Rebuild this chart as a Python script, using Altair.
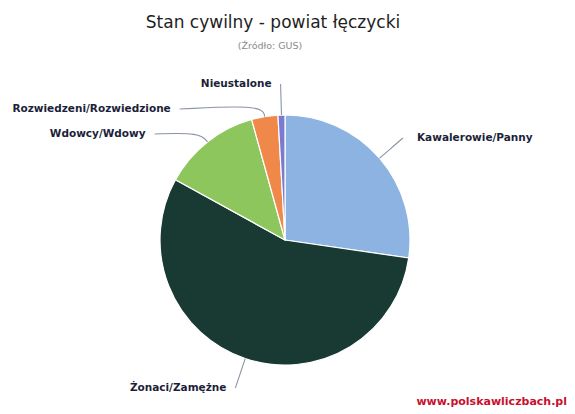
import math
import altair as alt
import pandas as pd

# ---- data ----
categories = ["Kawalerowie/Panny", "Żonaci/Zamężne", "Wdowcy/Wdowy",
              "Rozwiedzeni/Rozwiedzione", "Nieustalone"]
shares = [27.3, 55.7, 12.7, 3.4, 0.9]
colors = ["#8db3e2", "#193a33", "#8dc65d", "#f0884a", "#7b7ad0"]

TITLE = "Stan cywilny - powiat łęczycki"
SUBTITLE = "(Źródło: GUS)"
CREDIT = "www.polskawliczbach.pl"

# ---- layout (page pixels) ----
W, H = 559, 406
CX, CY, R = 285, 240, 125
RL, RX, RB = 156, 168, 137
PAD_L, PAD_R = 9, 14
SPACING = 25
FONT = "DejaVu Sans"

total = sum(shares)
rows = []
cum = 0.0
for i, (c, s) in enumerate(zip(categories, shares)):
    mid = (cum + s / 2) / total * 2 * math.pi
    cum += s
    side = "right" if math.sin(mid) >= 0 else "left"
    rows.append(dict(cat=c, share=s, idx=i, mid=mid, side=side,
                     ax=CX + RL * math.sin(mid), ay=CY - RL * math.cos(mid)))

# avoid overlapping labels on each side (push down)
for side in ("left", "right"):
    items = sorted([r for r in rows if r["side"] == side], key=lambda r: r["ay"])
    prev = None
    for r in items:
        if prev is not None and r["ay"] < prev + SPACING:
            r["ay"] = prev + SPACING
            dy = r["ay"] - CY
            dx = math.sqrt(max(RX ** 2 - dy ** 2, 0))
            r["ax"] = CX + (dx if side == "right" else -dx)
        prev = r["ay"]

pie_df = pd.DataFrame([dict(cat=r["cat"], share=r["share"], idx=r["idx"]) for r in rows])

conn = []
for r in rows:
    m = r["mid"]
    pts = [(CX + R * math.sin(m), CY - R * math.cos(m)),
           (CX + RB * math.sin(m), CY - RB * math.cos(m)),
           (r["ax"], r["ay"])]
    for k, (x, y) in enumerate(pts):
        conn.append(dict(cat=r["cat"], k=k, x=x, y=y))
conn_df = pd.DataFrame(conn)

lab_df = pd.DataFrame([dict(cat=r["cat"], side=r["side"],
                            x=r["ax"] + (PAD_R if r["side"] == "right" else -PAD_L),
                            y=r["ay"]) for r in rows])

xs = alt.Scale(domain=[8, 8 + W], nice=False, zero=False)
ys = alt.Scale(domain=[8, 8 + H], nice=False, zero=False, reverse=True)

pie = alt.Chart(pie_df).mark_arc(outerRadius=R, stroke="white", strokeWidth=1.2).encode(
    theta=alt.Theta("share:Q", stack=True),
    color=alt.Color("cat:N", scale=alt.Scale(domain=categories, range=colors), legend=None),
    order=alt.Order("idx:Q"),
    x=alt.value(CX - 8),
    y=alt.value(CY - 8),
)

lines = alt.Chart(conn_df).mark_line(color="#8a94a6", strokeWidth=1.1, interpolate="basis").encode(
    x=alt.X("x:Q", scale=xs, axis=None),
    y=alt.Y("y:Q", scale=ys, axis=None),
    detail="cat:N",
    order="k:Q",
)

def labels(side, align):
    return alt.Chart(lab_df).transform_filter(alt.datum.side == side).mark_text(
        align=align, baseline="middle", font=FONT, fontSize=10.5,
        fontWeight="bold", color="#1c1f3a"
    ).encode(
        x=alt.X("x:Q", scale=xs, axis=None),
        y=alt.Y("y:Q", scale=ys, axis=None),
        text="cat:N",
    )

def free_text(txt, x, y, **kw):
    return alt.Chart(pd.DataFrame({"t": [txt]})).mark_text(**kw).encode(
        text="t:N", x=alt.value(x - 8), y=alt.value(y - 8))

title = free_text(TITLE, 273, 23, font=FONT, fontSize=17, color="#1e1e1e",
                  align="center", baseline="middle")
subtitle = free_text(SUBTITLE, 270, 46, font=FONT, fontSize=9.5, color="#8a8a8a",
                     align="center", baseline="middle")
credit = free_text(CREDIT, 567, 402, font=FONT, fontSize=11, fontWeight="bold",
                   color="#c8102e", align="right", baseline="middle")

chart = alt.layer(pie, lines, labels("left", "right"), labels("right", "left"),
                  title, subtitle, credit).properties(
    width=W, height=H, autosize=alt.AutoSizeParams(type="none"), padding=0
).configure_view(stroke=None)

chart.save("out.html", embed_options={"renderer": "svg", "actions": False})
